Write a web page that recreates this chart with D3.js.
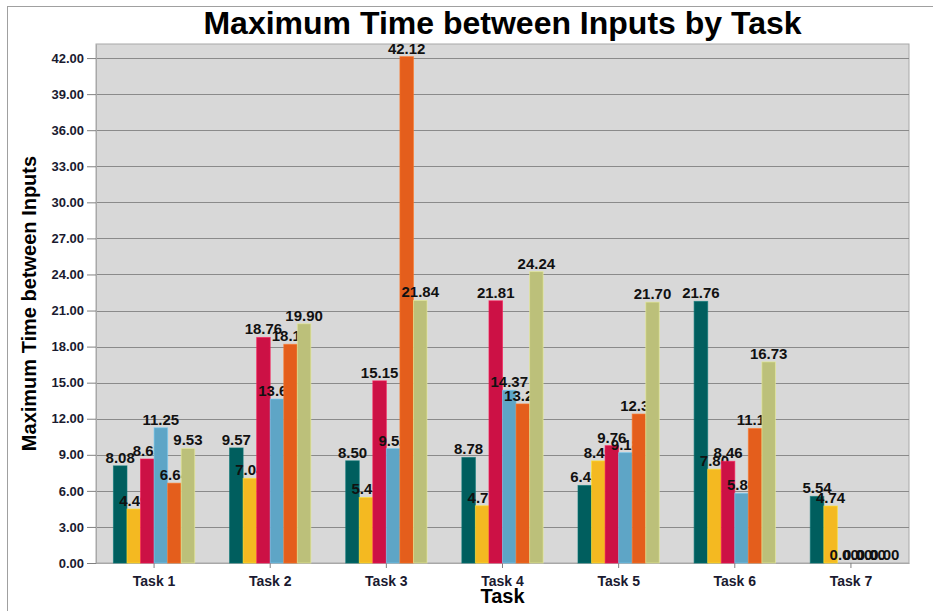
<!DOCTYPE html>
<html><head><meta charset="utf-8">
<script src="https://cdn.jsdelivr.net/npm/d3@7"></script>
<style>body{margin:0;background:#fff;}svg{display:block;font-family:"Liberation Sans",Arial,sans-serif;}</style>
</head><body>
<svg id="c" width="933" height="611"></svg>
<script>
const categories = ["Task 1","Task 2","Task 3","Task 4","Task 5","Task 6","Task 7"];
const s1 = [8.08, 9.57, 8.50, 8.78, 6.45, 21.76, 5.54];
const s2 = [4.49, 7.04, 5.45, 4.76, 8.49, 7.80, 4.74];
const s3 = [8.65, 18.76, 15.15, 21.81, 9.76, 8.46, 0];
const s4 = [11.25, 13.64, 9.52, 14.37, 9.18, 5.80, 0];
const s5 = [6.64, 18.19, 42.12, 13.23, 12.39, 11.19, 0];
const s6 = [9.53, 19.90, 21.84, 24.24, 21.70, 16.73, 0];
const seriesValues = [s1, s2, s3, s4, s5, s6];
const colors = ["#005e5e", "#f4b921", "#cc1145", "#5ea5c6", "#e45e1c", "#bcc07a"];
const yTicks = d3.range(0, 42.01, 3);

const svg = d3.select("#c");
const m = {l: 96, r: 909, t: 44, b: 563};

// outer frame
svg.append("line").attr("x1",7).attr("x2",933).attr("y1",6.5).attr("y2",6.5).attr("stroke","#a0a0a0");
svg.append("line").attr("x1",7.5).attr("x2",7.5).attr("y1",6).attr("y2",611).attr("stroke","#a0a0a0");

const x0 = d3.scaleBand().domain(categories).range([m.l, m.r]).paddingInner(0.3).paddingOuter(0.15);
const x1 = d3.scaleBand().domain(d3.range(6)).range([0, x0.bandwidth()]);
const y = d3.scaleLinear().domain([0, 43.17]).range([m.b, m.t]);

svg.append("rect").attr("x", m.l).attr("y", m.t).attr("width", m.r - m.l).attr("height", m.b - m.t)
  .attr("fill", "#d8d8d8").attr("stroke", "#a8a8a8");

// gridlines
svg.append("g").selectAll("line").data(yTicks).join("line")
  .attr("x1", m.l).attr("x2", m.r)
  .attr("y1", d => Math.round(y(d)) + 0.5).attr("y2", d => Math.round(y(d)) + 0.5)
  .attr("stroke", "#8a8a8a").attr("stroke-width", 1);

// y axis
const ya = svg.append("g").attr("transform", `translate(${m.l},0)`)
  .call(d3.axisLeft(y).tickValues(yTicks).tickFormat(d3.format(".2f")).tickSize(9).tickSizeOuter(0));
ya.select(".domain").attr("stroke", "#a8a8a8");
ya.selectAll(".tick line").attr("stroke", "#808080");
ya.selectAll(".tick text").attr("font-size", "13px").attr("font-weight", "bold").attr("fill", "#1a1a30")
  .attr("font-family", "Liberation Sans, Arial, sans-serif").attr("x", -12);

// x axis
const xa = svg.append("g").attr("transform", `translate(0,${m.b})`)
  .call(d3.axisBottom(x0).tickSize(5).tickSizeOuter(0));
xa.select(".domain").attr("stroke", "#a8a8a8");
xa.selectAll(".tick line").attr("stroke", "#808080");
xa.selectAll(".tick text").attr("font-size", "14px").attr("font-weight", "bold").attr("fill", "#1a1a30")
  .attr("font-family", "Liberation Sans, Arial, sans-serif").attr("dy", "1.1em");

// bars + labels, series by series (later bars cover earlier labels)
seriesValues.forEach((vals, si) => {
  const g = svg.append("g");
  g.selectAll("rect").data(vals).join("rect")
    .attr("x", (d, i) => x0(categories[i]) + x1(si))
    .attr("y", d => y(d))
    .attr("width", x1.bandwidth())
    .attr("height", d => Math.max(0, y(0) - y(d)))
    .attr("fill", colors[si])
    .attr("stroke", d3.color(colors[si]).brighter(0.6))
    .attr("stroke-opacity", 0.6)
    .attr("stroke-width", 1);
  g.selectAll("text").data(vals).join("text")
    .attr("x", (d, i) => x0(categories[i]) + x1(si) + x1.bandwidth() / 2)
    .attr("y", d => y(d) - 3)
    .attr("text-anchor", "middle")
    .attr("font-size", "15px").attr("font-weight", "bold").attr("fill", "#111")
    .text(d => d3.format(".2f")(d));
});

// titles
svg.append("text").attr("x", (m.l + m.r) / 2).attr("y", 34).attr("text-anchor", "middle")
  .attr("font-size", "32px").attr("font-weight", "bold").attr("fill", "#000")
  .text("Maximum Time between Inputs by Task");
svg.append("text").attr("transform", `translate(36,${(m.t + m.b) / 2}) rotate(-90)`)
  .attr("text-anchor", "middle").attr("font-size", "20px").attr("font-weight", "bold").attr("fill", "#000")
  .text("Maximum Time between Inputs");
svg.append("text").attr("x", (m.l + m.r) / 2).attr("y", 603).attr("text-anchor", "middle")
  .attr("font-size", "20px").attr("font-weight", "bold").attr("fill", "#000")
  .text("Task");
</script>
</body></html>
